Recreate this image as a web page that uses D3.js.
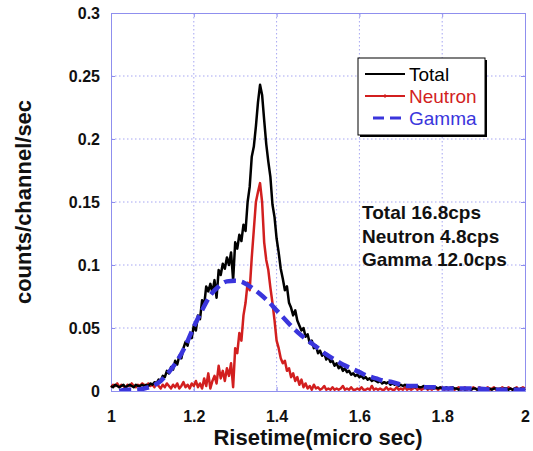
<!DOCTYPE html>
<html>
<head>
<meta charset="utf-8">
<script src="https://cdn.jsdelivr.net/npm/d3@7"></script>
<style>
  body { margin: 0; background: #fff; }
  svg { font-family: 'Liberation Sans', Arial, sans-serif; }
  .tick-label { font-weight: bold; font-size: 16px; fill: #111; }
  .axis-title { font-weight: bold; font-size: 22px; fill: #111; }
</style>
</head>
<body>
<svg id="chart" width="533" height="451"></svg>
<script>
// channel grid of the rise-time histogram (micro sec)
const riseTime = d3.range(0, 201).map((i) => +(1 + i * 0.005).toFixed(3))

// counts/channel/sec, 10 channels per row
const total = [
  0.004, 0.003, 0.005, 0.004, 0.003, 0.004, 0.005, 0.003, 0.004, 0.005,
  0.004, 0.003, 0.005, 0.004, 0.004, 0.005, 0.004, 0.005, 0.004, 0.006,
  0.005, 0.007, 0.006, 0.009, 0.008, 0.012, 0.011, 0.016, 0.014, 0.019,
  0.017, 0.024, 0.021, 0.028, 0.026, 0.034, 0.039, 0.036, 0.044, 0.042,
  0.052, 0.048, 0.060, 0.057, 0.072, 0.068, 0.083, 0.079, 0.085, 0.078,
  0.088, 0.074, 0.096, 0.092, 0.101, 0.097, 0.106, 0.100, 0.110, 0.088,
  0.118, 0.113, 0.124, 0.119, 0.132, 0.127, 0.150, 0.162, 0.186, 0.194,
  0.210, 0.229, 0.243, 0.235, 0.215, 0.196, 0.182, 0.170, 0.148, 0.138,
  0.121, 0.110, 0.097, 0.089, 0.080, 0.083, 0.070, 0.066, 0.060, 0.064,
  0.056, 0.052, 0.048, 0.050, 0.043, 0.045, 0.038, 0.040, 0.034, 0.036,
  0.030, 0.032, 0.028, 0.030, 0.025, 0.027, 0.023, 0.024, 0.020, 0.022,
  0.018, 0.020, 0.016, 0.018, 0.015, 0.016, 0.013, 0.014, 0.012, 0.013,
  0.011, 0.012, 0.010, 0.011, 0.009, 0.010, 0.008, 0.009, 0.008, 0.007,
  0.008, 0.006, 0.007, 0.006, 0.007, 0.005, 0.006, 0.005, 0.006, 0.004,
  0.005, 0.004, 0.005, 0.004, 0.004, 0.003, 0.004, 0.003, 0.004, 0.003,
  0.003, 0.004, 0.003, 0.002, 0.003, 0.003, 0.002, 0.003, 0.002, 0.003,
  0.002, 0.002, 0.003, 0.002, 0.002, 0.003, 0.002, 0.002, 0.001, 0.002,
  0.002, 0.001, 0.002, 0.002, 0.001, 0.002, 0.002, 0.001, 0.002, 0.001,
  0.002, 0.002, 0.001, 0.002, 0.001, 0.002, 0.002, 0.001, 0.002, 0.001,
  0.002, 0.002, 0.001, 0.002, 0.001, 0.002, 0.002, 0.001, 0.002, 0.001,
  0.002
]

const neutron = [
  0.003, 0.005, 0.004, 0.006, 0.003, 0.005, 0.004, 0.002, 0.005, 0.004,
  0.006, 0.004, 0.003, 0.005, 0.004, 0.006, 0.005, 0.003, 0.006, 0.004,
  0.005, 0.003, 0.006, 0.004, 0.002, 0.005, 0.003, 0.006, 0.004, 0.002,
  0.005, 0.003, 0.006, 0.002, 0.004, 0.007, 0.003, 0.005, 0.002, 0.006,
  0.004, 0.008, 0.003, 0.006, 0.002, 0.010, 0.004, 0.014, 0.002, 0.008,
  0.012, 0.006, 0.020, 0.010, 0.016, 0.008, 0.018, 0.012, 0.022, 0.003,
  0.034, 0.030, 0.046, 0.040, 0.060, 0.070, 0.086, 0.080, 0.106, 0.128,
  0.150, 0.158, 0.165, 0.150, 0.118, 0.104, 0.096, 0.082, 0.070, 0.056,
  0.040, 0.034, 0.026, 0.022, 0.024, 0.016, 0.018, 0.011, 0.014, 0.008,
  0.011, 0.005, 0.009, 0.003, 0.006, 0.002, 0.004, 0.001, 0.005, 0.002,
  0.003, 0.001, 0.002, 0.004, 0.001, 0.002, 0.001, 0.003, 0.001, 0.002,
  0.001, 0.002, 0.004, 0.001, 0.002, 0.001, 0.003, 0.001, 0.001, 0.002,
  0.001, 0.003, 0.001, 0.001, 0.002, 0.001, 0.004, 0.001, 0.002, 0.001,
  0.002, 0.001, 0.001, 0.003, 0.001, 0.002, 0.001, 0.001, 0.003, 0.001,
  0.002, 0.001, 0.003, 0.001, 0.002, 0.001, 0.002, 0.003, 0.001, 0.002,
  0.001, 0.002, 0.003, 0.001, 0.002, 0.001, 0.003, 0.002, 0.001, 0.002,
  0.003, 0.001, 0.002, 0.001, 0.003, 0.002, 0.001, 0.002, 0.003, 0.001,
  0.002, 0.003, 0.001, 0.002, 0.001, 0.003, 0.002, 0.001, 0.003, 0.002,
  0.001, 0.002, 0.003, 0.001, 0.002, 0.003, 0.001, 0.002, 0.001, 0.003,
  0.002, 0.001, 0.003, 0.002, 0.001, 0.002, 0.003, 0.001, 0.002, 0.003,
  0.002
]

// smooth gamma fit, sampled every 0.02
const gammaX = [
  1.02, 1.04, 1.06, 1.08, 1.10, 1.12, 1.14, 1.16, 1.18, 1.20,
  1.22, 1.24, 1.26, 1.28, 1.30, 1.32, 1.34, 1.36, 1.38, 1.40,
  1.42, 1.44, 1.46, 1.48, 1.50, 1.52, 1.54, 1.56, 1.58, 1.60,
  1.62, 1.64, 1.66, 1.68, 1.70, 1.72, 1.74, 1.76, 1.78, 1.80,
  1.84, 1.88, 1.92, 1.96, 2.00
]
const gamma = [
  0.000, 0.001, 0.001, 0.002, 0.004, 0.008, 0.015, 0.024, 0.036, 0.051,
  0.064, 0.076, 0.083, 0.087, 0.0875, 0.086, 0.082, 0.077, 0.071, 0.064,
  0.057, 0.050, 0.044, 0.039, 0.034, 0.029, 0.025, 0.021, 0.018, 0.015,
  0.012, 0.010, 0.008, 0.007, 0.005, 0.004, 0.004, 0.003, 0.003, 0.002,
  0.002, 0.002, 0.001, 0.001, 0.001
]

const xTicks = [1, 1.2, 1.4, 1.6, 1.8, 2]
const yTicks = [0, 0.05, 0.1, 0.15, 0.2, 0.25, 0.3]
const legendItems = [
  {name: 'Total', color: '#000000'},
  {name: 'Neutron', color: '#d21f1f'},
  {name: 'Gamma', color: '#3a35dc'}
]
const rates = ['Total 16.8cps', 'Neutron 4.8cps', 'Gamma 12.0cps']

let svg = d3.select('#chart')
let margin = {top: 13, right: 8, bottom: 60, left: 111}
let width = 533 - margin.left - margin.right
let height = 451 - margin.top - margin.bottom

let x = d3.scaleLinear().domain([1, 2]).range([0, width])
let y = d3.scaleLinear().domain([0, 0.3]).range([height, 0])

let plot = svg.append('g')
  .attr('transform', 'translate(' + margin.left + ',' + margin.top + ')')

// dotted grid
plot.append('g')
  .selectAll('line')
  .data(xTicks.slice(1, -1))
  .join('line')
    .attr('x1', (d) => x(d)).attr('x2', (d) => x(d))
    .attr('y1', 0).attr('y2', height)
    .attr('stroke', '#a6a6f2').attr('stroke-width', 1)
    .attr('stroke-dasharray', '1.5,2.5')
plot.append('g')
  .selectAll('line')
  .data(yTicks.slice(1, -1))
  .join('line')
    .attr('x1', 0).attr('x2', width)
    .attr('y1', (d) => y(d)).attr('y2', (d) => y(d))
    .attr('stroke', '#a6a6f2').attr('stroke-width', 1)
    .attr('stroke-dasharray', '1.5,2.5')

// axes
let xAxis = plot.append('g')
  .attr('transform', 'translate(0,' + height + ')')
  .call(d3.axisBottom(x).tickValues(xTicks).tickSize(-4).tickPadding(20).tickFormat(d3.format('')))
let yAxis = plot.append('g')
  .call(d3.axisLeft(y).tickValues(yTicks).tickSize(-4).tickPadding(11).tickFormat(d3.format('')))
plot.append('g')
  .call(d3.axisTop(x).tickValues(xTicks).tickSize(-4).tickFormat(''))
plot.append('g')
  .attr('transform', 'translate(' + width + ',0)')
  .call(d3.axisRight(y).tickValues(yTicks).tickSize(-4).tickFormat(''))

plot.selectAll('.domain').attr('stroke', '#8f8fee')
plot.selectAll('.tick line').attr('stroke', '#8f8fee')
xAxis.selectAll('text').attr('class', 'tick-label')
yAxis.selectAll('text').attr('class', 'tick-label')

// series
let clip = svg.append('defs').append('clipPath').attr('id', 'clip')
clip.append('rect').attr('x', -2).attr('width', width + 4).attr('height', height)

let series = plot.append('g').attr('clip-path', 'url(#clip)')

let histLine = d3.line()
  .x((d, i) => x(riseTime[i]))
  .y((d) => y(d))

series.append('path').datum(neutron)
  .attr('fill', 'none')
  .attr('stroke', legendItems[1].color)
  .attr('stroke-width', 2.5)
  .attr('stroke-linejoin', 'round')
  .attr('d', histLine)

series.append('path').datum(total)
  .attr('fill', 'none')
  .attr('stroke', legendItems[0].color)
  .attr('stroke-width', 2.5)
  .attr('stroke-linejoin', 'round')
  .attr('d', histLine)

series.append('path').datum(gamma)
  .attr('fill', 'none')
  .attr('stroke', legendItems[2].color)
  .attr('stroke-width', 4.5)
  .attr('stroke-dasharray', '12,6')
  .attr('d', d3.line()
    .curve(d3.curveMonotoneX)
    .x((d, i) => x(gammaX[i]))
    .y((d) => y(d)))

// legend
let legend = svg.append('g').attr('transform', 'translate(358,58)')
legend.append('rect')
  .attr('x', 2).attr('y', 2).attr('width', 127).attr('height', 77)
  .attr('fill', '#000')
legend.append('rect')
  .attr('width', 127).attr('height', 77)
  .attr('fill', '#fff').attr('stroke', '#000').attr('stroke-width', 1)

let rows = legend.selectAll('g.row')
  .data(legendItems)
  .join('g')
    .attr('class', 'row')
    .attr('transform', (d, i) => 'translate(0,' + (16 + i * 22) + ')')
rows.append('line')
  .attr('x1', (d, i) => i === 2 ? 15 : 7).attr('x2', 47)
  .attr('stroke', (d) => d.color)
  .attr('stroke-width', (d, i) => i === 2 ? 3 : 2)
  .attr('stroke-dasharray', (d, i) => i === 2 ? '11,6' : null)
rows.filter((d, i) => i === 1).append('line')
  .attr('x1', 27).attr('x2', 27).attr('y1', -2).attr('y2', 2)
  .attr('stroke', (d) => d.color).attr('stroke-width', 1)
rows.append('text')
  .attr('x', 51).attr('y', 7)
  .attr('font-size', '19px')
  .attr('fill', (d) => d.color)
  .text((d) => d.name)

// count rates
svg.append('g')
  .selectAll('text')
  .data(rates)
  .join('text')
    .attr('x', 362)
    .attr('y', (d, i) => 219 + i * 23.5)
    .attr('font-size', '19px')
    .attr('font-weight', 'bold')
    .attr('fill', '#111')
    .text((d) => d)

// axis titles
svg.append('text')
  .attr('class', 'axis-title')
  .attr('x', 318)
  .attr('y', 445)
  .attr('text-anchor', 'middle')
  .text('Risetime(micro sec)')
svg.append('text')
  .attr('class', 'axis-title')
  .attr('transform', 'translate(31,202) rotate(-90)')
  .attr('text-anchor', 'middle')
  .text('counts/channel/sec')
</script>
</body>
</html>
